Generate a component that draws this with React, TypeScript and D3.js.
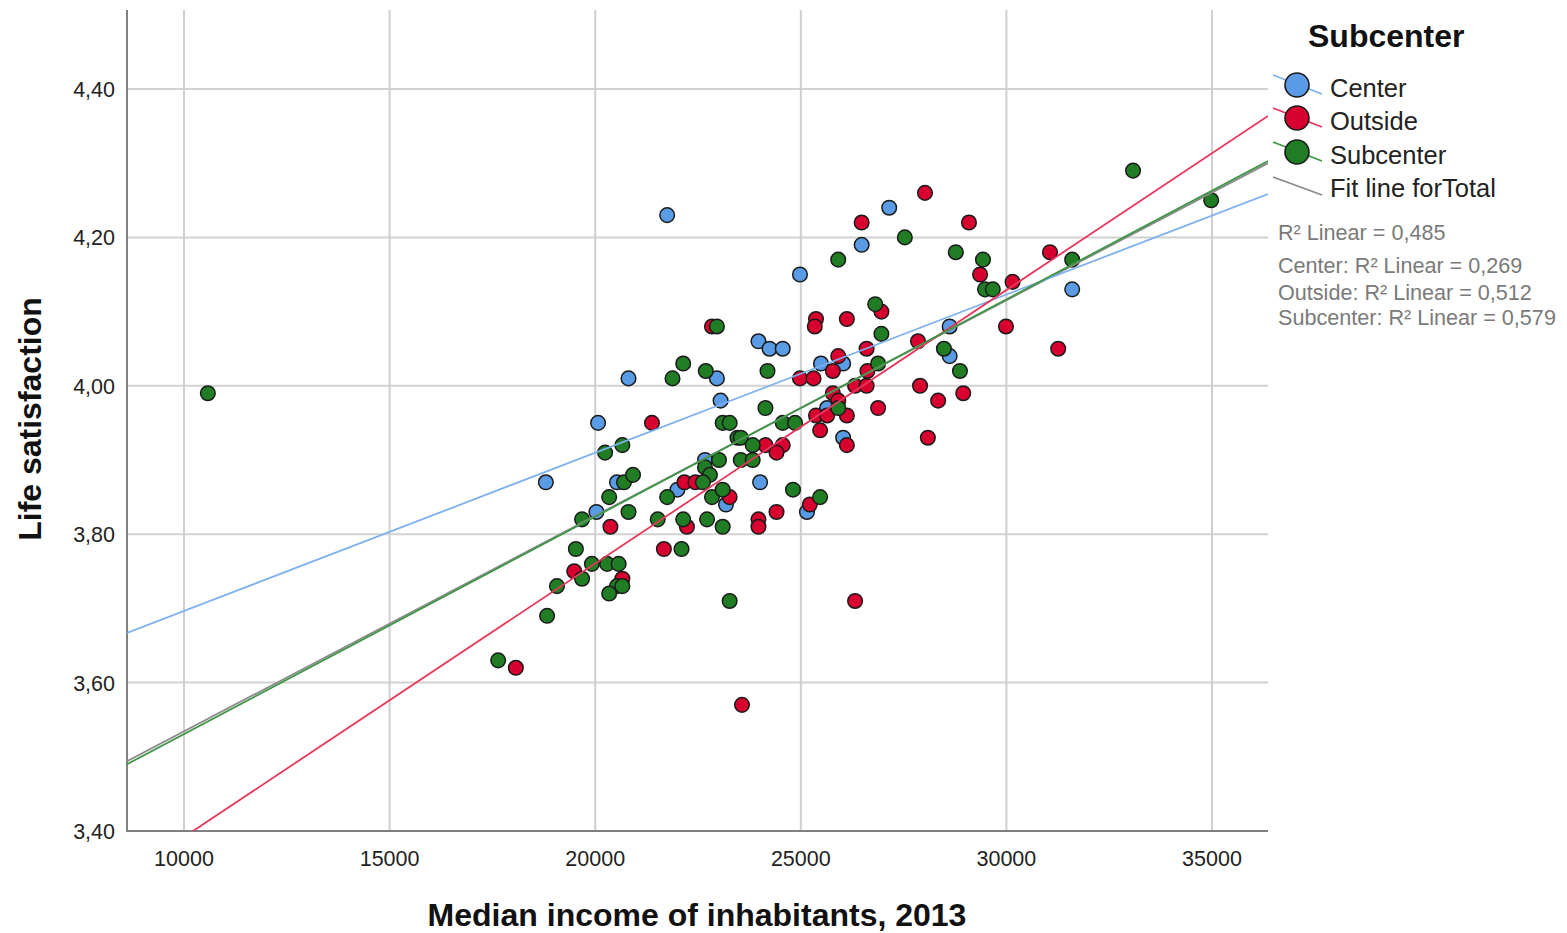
import React from "react";
import * as d3 from "d3";

// ---- data ----
const xTicks = [10000, 15000, 20000, 25000, 30000, 35000];
const yTicks = [3.4, 3.6, 3.8, 4.0, 4.2, 4.4];
const groupNames = ["Center", "Outside", "Subcenter"];

const centerPoints: [number, number][] = [
  [21750, 4.23], [27150, 4.24], [26480, 4.19], [24980, 4.15], [31600, 4.13],
  [23970, 4.06], [24240, 4.05], [24560, 4.05], [20810, 4.01], [22960, 4.01],
  [20070, 3.95], [23050, 3.98], [25490, 4.03], [26030, 4.03], [28620, 4.08],
  [28620, 4.04], [25640, 3.97], [26030, 3.93], [18800, 3.87], [20530, 3.87],
  [20030, 3.83], [22000, 3.86], [22670, 3.9], [23180, 3.84], [24010, 3.87],
  [25150, 3.83],
];

const outsidePoints: [number, number][] = [
  [28020, 4.26], [29090, 4.22], [26480, 4.22], [31060, 4.18], [29360, 4.15],
  [30150, 4.14], [26960, 4.1], [25370, 4.09], [25340, 4.08], [26120, 4.09],
  [22840, 4.08], [27850, 4.06], [29990, 4.08], [31260, 4.05], [26600, 4.05],
  [25910, 4.04], [25780, 4.02], [26620, 4.02], [24980, 4.01], [25310, 4.01],
  [26320, 4.0], [26600, 4.0], [27900, 4.0], [25780, 3.99], [28950, 3.99],
  [25910, 3.98], [28340, 3.98], [26880, 3.97], [25370, 3.96], [25640, 3.96],
  [26120, 3.96], [21380, 3.95], [25470, 3.94], [28090, 3.93], [26120, 3.92],
  [24140, 3.92], [24560, 3.92], [24410, 3.91], [22170, 3.87], [22440, 3.87],
  [23270, 3.85], [25220, 3.84], [24410, 3.83], [23970, 3.82], [23970, 3.81],
  [20370, 3.81], [22230, 3.81], [21670, 3.78], [19490, 3.75], [20660, 3.74],
  [18070, 3.62], [23570, 3.57], [26320, 3.71],
];

const subcenterPoints: [number, number][] = [
  [10580, 3.99], [33080, 4.29], [34980, 4.25], [31600, 4.17], [27530, 4.2],
  [28770, 4.18], [29430, 4.17], [29480, 4.13], [29670, 4.13], [25910, 4.17],
  [26810, 4.11], [26960, 4.07], [28480, 4.05], [28870, 4.02], [26880, 4.03],
  [25910, 3.97], [24560, 3.95], [24860, 3.95], [24190, 4.02], [24140, 3.97],
  [22960, 4.08], [22140, 4.03], [21880, 4.01], [22690, 4.02], [23100, 3.95],
  [23270, 3.95], [20660, 3.92], [20240, 3.91], [23460, 3.93], [23540, 3.93],
  [23830, 3.92], [23540, 3.9], [23830, 3.9], [23010, 3.9], [22670, 3.89],
  [22790, 3.88], [22620, 3.87], [20700, 3.87], [20920, 3.88], [20340, 3.85],
  [20810, 3.83], [19680, 3.82], [21750, 3.85], [22840, 3.85], [23100, 3.86],
  [24810, 3.86], [25470, 3.85], [21520, 3.82], [22140, 3.82], [22720, 3.82],
  [23100, 3.81], [22100, 3.78], [19530, 3.78], [19920, 3.76], [20290, 3.76],
  [20570, 3.76], [19680, 3.74], [20530, 3.73], [20660, 3.73], [20340, 3.72],
  [19070, 3.73], [18830, 3.69], [17640, 3.63], [23270, 3.71],
];

// fit lines: [intercept, slope]
const fitTotal: [number, number] = [3.2438, 2.905e-5];
const fitCenter: [number, number] = [3.4834, 2.1317e-5];
const fitOutside: [number, number] = [3.0233, 3.6859e-5];
const fitSubcenter: [number, number] = [3.2376, 2.93e-5];

const r2Labels = [
  "R² Linear = 0,485",
  "Center: R² Linear = 0,269",
  "Outside: R² Linear = 0,512",
  "Subcenter: R² Linear = 0,579",
];

// ---- styles ----
const W = 1567;
const H = 933;
const plotLeft = 127;
const plotRight = 1268;
const plotTop = 10;
const plotBottom = 831;
const FONT = "'Liberation Sans', Arial, sans-serif";

const fillColors = ["#5A9BE5", "#D8002E", "#207D24"];
const lineColors = ["#7DB0F0", "#E8365C", "#3E9646"];
const totalLineColor = "#8A8A8A";

export default function App() {
  const x = d3.scaleLinear().domain([10000, 35000]).range([184, 1212]);
  const y = d3.scaleLinear().domain([3.4, 4.4]).range([831, 89]);

  const x0 = x.invert(plotLeft);
  const x1 = x.invert(plotRight);
  const fitPath = (f: [number, number]) =>
    d3
      .line<number>()
      .x((d) => x(d))
      .y((d) => y(f[0] + f[1] * d))([x0, x1]) || "";

  const groups = [centerPoints, outsidePoints, subcenterPoints];
  const fits = [fitCenter, fitOutside, fitSubcenter];

  const legendY = [85, 118, 152];

  return (
    <svg
      width={W}
      height={H}
      style={{ position: "absolute", left: 0, top: 0, background: "#fff" }}
      fontFamily={FONT}
    >
      <defs>
        <clipPath id="plotClip">
          <rect x={plotLeft} y={plotTop} width={plotRight - plotLeft} height={plotBottom - plotTop} />
        </clipPath>
      </defs>
      <rect x={0} y={0} width={W} height={H} fill="#fff" />

      {/* gridlines */}
      {yTicks
        .filter((t) => t > 3.41)
        .map((t) => (
          <line key={"gy" + t} x1={plotLeft} x2={plotRight} y1={y(t)} y2={y(t)} stroke="#D2D2D2" strokeWidth={2} />
        ))}
      {xTicks.map((t) => (
        <line key={"gx" + t} x1={x(t)} x2={x(t)} y1={plotTop} y2={plotBottom} stroke="#CFCFCF" strokeWidth={2} />
      ))}

      {/* axes */}
      <line x1={plotLeft} x2={plotLeft} y1={plotTop} y2={plotBottom + 1} stroke="#808080" strokeWidth={2} />
      <line x1={plotLeft} x2={plotRight} y1={plotBottom} y2={plotBottom} stroke="#808080" strokeWidth={2} />

      {/* tick labels */}
      {yTicks.map((t) => (
        <text key={"ty" + t} x={115} y={y(t) + 8} textAnchor="end" fontSize={21.5} fill="#222">
          {t.toFixed(2).replace(".", ",")}
        </text>
      ))}
      {xTicks.map((t) => (
        <text key={"tx" + t} x={x(t)} y={866} textAnchor="middle" fontSize={21.5} fill="#222">
          {String(t)}
        </text>
      ))}

      {/* axis titles */}
      <text x={697} y={926} textAnchor="middle" fontSize={32} fontWeight="bold" fill="#111">
        Median income of inhabitants, 2013
      </text>
      <text
        transform={`translate(41, 419) rotate(-90)`}
        textAnchor="middle"
        fontSize={32}
        fontWeight="bold"
        fill="#111"
      >
        Life satisfaction
      </text>

      {/* points */}
      <g>
        {groups.map((pts, gi) =>
          pts.map((p, i) => (
            <circle
              key={gi + "-" + i}
              cx={x(p[0])}
              cy={y(p[1])}
              r={7.3}
              fill={fillColors[gi]}
              stroke="#1a1a1a"
              strokeWidth={1.5}
            />
          ))
        )}
      </g>

      {/* fit lines */}
      <g clipPath="url(#plotClip)" fill="none">
        <path d={fitPath(fitTotal)} stroke={totalLineColor} strokeWidth={1.8} />
        {fits.map((f, i) => (
          <path key={"fit" + i} d={fitPath(f)} stroke={lineColors[i]} strokeWidth={1.8} />
        ))}
      </g>

      {/* legend */}
      <text x={1308} y={47} fontSize={32} fontWeight="bold" fill="#111">
        Subcenter
      </text>
      {groupNames.map((g, i) => (
        <g key={"lg" + g}>
          <line
            x1={1273}
            y1={legendY[i] - 10}
            x2={1322}
            y2={legendY[i] + 9}
            stroke={lineColors[i]}
            strokeWidth={1.8}
          />
          <circle cx={1297} cy={legendY[i]} r={12} fill={fillColors[i]} stroke="#1a1a1a" strokeWidth={1.6} />
          <text x={1330} y={legendY[i] + 12} fontSize={25.5} fill="#222">
            {g}
          </text>
        </g>
      ))}
      <line x1={1273} y1={177} x2={1322} y2={195} stroke={totalLineColor} strokeWidth={1.8} />
      <text x={1330} y={197} fontSize={25.5} fill="#222">
        Fit line forTotal
      </text>
      {r2Labels.map((t, i) => (
        <text key={"r2" + i} x={1278} y={[240, 273, 300, 325][i]} fontSize={21.6} fill="#7a7a7a">
          {t}
        </text>
      ))}
    </svg>
  );
}
